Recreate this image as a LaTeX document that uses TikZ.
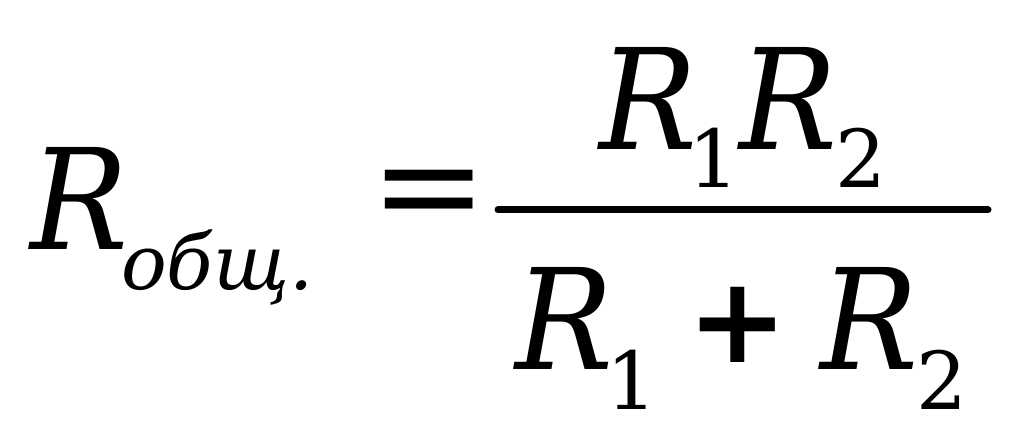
\documentclass[tikz,border=0pt]{standalone}
\usepackage{fontspec}
\setmainfont{DejaVu Serif}
\newfontfamily\rfont[FakeStretch=0.93]{DejaVu Serif}
\newfontfamily\plusfont{DejaVu Sans}
\begin{document}
\begin{tikzpicture}[x=1pt,y=1pt,
  big/.style={inner sep=0pt,anchor=base west,font=\fontsize{140}{140}\rfont\itshape},
  sub/.style={inner sep=0pt,anchor=base west,font=\fontsize{80}{80}\selectfont},
  subit/.style={inner sep=0pt,anchor=base west,font=\fontsize{76}{76}\selectfont\itshape}]
\useasboundingbox (0,0) rectangle (1024,446);
% left side
\node[big] (R) at (30,196) {R};
\node[subit] (obsh) at (121,156) {общ.};
\node[inner sep=0pt,font=\fontsize{140}{140}\selectfont] (eq) at (429,244) {=};
% numerator
\node[big] (n1) at (599,296) {R};
\node[sub] (n1s) at (688,258) {1};
\node[big] (n2) at (739,296) {R};
\node[sub] (n2s) at (835,258) {2};
% bar
\coordinate (bl) at (498,236);
\coordinate (br) at (988,236);
\draw[line width=7pt,line cap=round] (bl) -- (br);
% denominator
\node[big] (d1) at (515,76) {R};
\node[sub] (d1s) at (606,36) {1};
\node[inner sep=0pt,font=\fontsize{120}{120}\selectfont\plusfont\bfseries] (plus) at (738,121) {+};
\node[big] (d2) at (820,76) {R};
\node[sub] (d2s) at (916,36) {2};
\end{tikzpicture}
\end{document}
